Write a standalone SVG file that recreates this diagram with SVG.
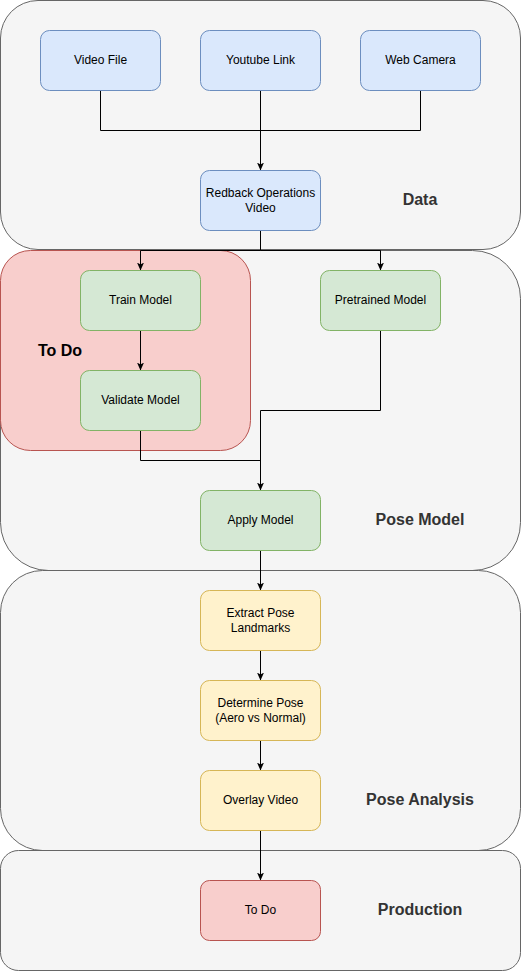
<svg xmlns="http://www.w3.org/2000/svg" width="521" height="971" viewBox="0 0 521 971">
<defs>
<marker id="arr" viewBox="0 0 8 8" refX="8" refY="4" markerWidth="8" markerHeight="8" markerUnits="userSpaceOnUse" orient="auto">
<path d="M0,0.5 L8,4 L0,7.5 L2,4 Z" fill="#000"/>
</marker>
</defs>
<style>
.cont{fill:#f5f5f5;stroke:#666666;stroke-width:1}
.clabel{font-family:"Liberation Sans",Helvetica,Arial,sans-serif;font-size:16px;font-weight:bold;fill:#333333;text-anchor:middle}
.blue{fill:#dae8fc;stroke:#6c8ebf;stroke-width:1}
.green{fill:#d5e8d4;stroke:#82b366;stroke-width:1}
.yellow{fill:#fff2cc;stroke:#d6b656;stroke-width:1}
.red{fill:#f8cecc;stroke:#b85450;stroke-width:1}
.t{font-family:"Liberation Sans",Helvetica,Arial,sans-serif;font-size:12px;fill:#000;text-anchor:middle}
.e{fill:none;stroke:#000;stroke-width:1}
</style>
<g id="data-container"><rect class="cont" x="0.5" y="0.5" width="520" height="249" rx="37.5"/><text class="clabel" x="420" y="205">Data</text></g>
<g id="pose-model-container"><rect class="cont" x="0.5" y="250.5" width="520" height="320" rx="48"/><text class="clabel" x="420" y="525">Pose Model</text></g>
<g id="pose-analysis-container"><rect class="cont" x="0.5" y="570.5" width="520" height="280" rx="42"/><text class="clabel" x="420" y="805">Pose Analysis</text></g>
<g id="production-container"><rect class="cont" x="0.5" y="850.5" width="520" height="120" rx="18"/><text class="clabel" x="420" y="915">Production</text></g>
<g id="todo-container"><rect class="red" x="0.5" y="250.5" width="250" height="200" rx="30"/><text x="60" y="356" style="font-family:'Liberation Sans',Helvetica,Arial,sans-serif;font-size:16px;font-weight:bold;fill:#000;text-anchor:middle">To Do</text></g>
<g id="connectors">
<path class="e" d="M100.5,90.5 V130.5 H420.5 V90.5"/>
<path class="e" d="M260.5,90.5 V170.5" marker-end="url(#arr)"/>
<path class="e" d="M260.5,230.5 V250.5 H140.5 V270.5" marker-end="url(#arr)"/>
<path class="e" d="M260.5,250.5 H380.5 V270.5" marker-end="url(#arr)"/>
<path class="e" d="M140.5,330.5 V370.5" marker-end="url(#arr)"/>
<path class="e" d="M140.5,430.5 V460.5 H260.5"/>
<path class="e" d="M380.5,330.5 V410.5 H260.5 V490.5" marker-end="url(#arr)"/>
<path class="e" d="M260.5,550.5 V590.5" marker-end="url(#arr)"/>
<path class="e" d="M260.5,650.5 V680.5" marker-end="url(#arr)"/>
<path class="e" d="M260.5,740.5 V770.5" marker-end="url(#arr)"/>
<path class="e" d="M260.5,830.5 V880.5" marker-end="url(#arr)"/>
</g>
<g id="video-file"><rect class="blue" x="40.5" y="30.5" width="120" height="60" rx="9"/><text class="t" x="100.5" y="63.5">Video File</text></g>
<g id="youtube-link"><rect class="blue" x="200.5" y="30.5" width="120" height="60" rx="9"/><text class="t" x="260.5" y="63.5">Youtube Link</text></g>
<g id="web-camera"><rect class="blue" x="360.5" y="30.5" width="120" height="60" rx="9"/><text class="t" x="420.5" y="63.5">Web Camera</text></g>
<g id="redback-video"><rect class="blue" x="200.5" y="170.5" width="120" height="60" rx="9"/><text class="t" x="260.5" y="197">Redback Operations</text><text class="t" x="260.5" y="211.5">Video</text></g>
<g id="train-model"><rect class="green" x="80.5" y="270.5" width="120" height="60" rx="9"/><text class="t" x="140.5" y="303.5">Train Model</text></g>
<g id="pretrained-model"><rect class="green" x="320.5" y="270.5" width="120" height="60" rx="9"/><text class="t" x="380.5" y="303.5">Pretrained Model</text></g>
<g id="validate-model"><rect class="green" x="80.5" y="370.5" width="120" height="60" rx="9"/><text class="t" x="140.5" y="403.5">Validate Model</text></g>
<g id="apply-model"><rect class="green" x="200.5" y="490.5" width="120" height="60" rx="9"/><text class="t" x="260.5" y="523.5">Apply Model</text></g>
<g id="extract-landmarks"><rect class="yellow" x="200.5" y="590.5" width="120" height="60" rx="9"/><text class="t" x="260.5" y="617">Extract Pose</text><text class="t" x="260.5" y="631.5">Landmarks</text></g>
<g id="determine-pose"><rect class="yellow" x="200.5" y="680.5" width="120" height="60" rx="9"/><text class="t" x="260.5" y="707">Determine Pose</text><text class="t" x="260.5" y="721.5">(Aero vs Normal)</text></g>
<g id="overlay-video"><rect class="yellow" x="200.5" y="770.5" width="120" height="60" rx="9"/><text class="t" x="260.5" y="803.5">Overlay Video</text></g>
<g id="todo-production"><rect class="red" x="200.5" y="880.5" width="120" height="60" rx="9"/><text class="t" x="260.5" y="913.5">To Do</text></g>
</svg>
